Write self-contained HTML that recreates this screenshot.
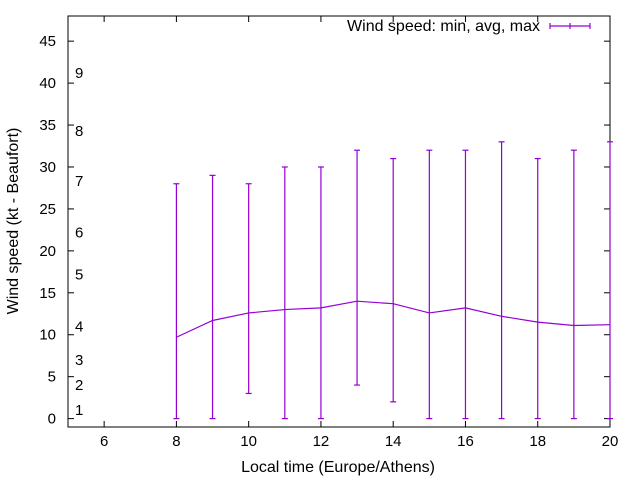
<!DOCTYPE html>
<html><head><meta charset="utf-8"><style>
html,body{margin:0;padding:0;background:#fff}
svg{display:block;font-family:"Liberation Sans",Arial,sans-serif}
</style></head><body>
<svg id="chart" width="640" height="480" viewBox="0 0 640 480">
<rect width="640" height="480" fill="#fff"/>
<g id="axes"></g>
<g id="series"></g>
<text x="540" y="31" text-anchor="end" font-size="16" fill="#000">Wind speed: min, avg, max</text>
<g stroke="#9400d3" stroke-width="1.2">
<line x1="550" y1="26" x2="590" y2="26"/><line x1="550" y1="23" x2="550" y2="29"/><line x1="590" y1="23" x2="590" y2="29"/><line x1="570" y1="23" x2="570" y2="29"/>
</g>
<text x="338" y="472" text-anchor="middle" font-size="16">Local time (Europe/Athens)</text>
<text transform="translate(18,221) rotate(-90)" text-anchor="middle" font-size="16">Wind speed (kt - Beaufort)</text>
</svg>
<script>
const hours = [8,9,10,11,12,13,14,15,16,17,18,19,20];
const minVals = [0,0,3,0,0,4,2,0,0,0,0,0,0];
const avgVals = [9.7,11.7,12.6,13.0,13.2,14.0,13.7,12.6,13.2,12.2,11.5,11.1,11.2];
const maxVals = [28,29,28,30,30,32,31,32,32,33,31,32,33];
const xTicks = [6,8,10,12,14,16,18,20];
const yTicks = [0,5,10,15,20,25,30,35,40,45];
const beaufortLabels = ["1","2","3","4","5","6","7","8","9"];
const beaufortY = [1,4,7,11,17.2,22.2,28.3,34.3,41.2];

const L=68,R=610,T=16,B=427, X0=5,X1=20,Y0=-1,Y1=48;
const sx=v=>L+(v-X0)/(X1-X0)*(R-L);
const sy=v=>B-(v-Y0)/(Y1-Y0)*(B-T);
const NS="http://www.w3.org/2000/svg";
function mk(tag,attrs,parent){const e=document.createElementNS(NS,tag);for(const k in attrs)e.setAttribute(k,attrs[k]);parent.appendChild(e);return e;}
const ax=document.getElementById('axes'), se=document.getElementById('series');
const border=mk('rect',{x:L,y:T,width:R-L,height:B-T,fill:'none',stroke:'#000','stroke-width':1},ax);


xTicks.forEach(v=>{
  const x=sx(v);
  mk('line',{x1:x,y1:B,x2:x,y2:B-6,stroke:'#000'},ax);
  mk('line',{x1:x,y1:T,x2:x,y2:T+6,stroke:'#000'},ax);
  const t=mk('text',{x:x,y:B+19,'text-anchor':'middle','font-size':15},ax);
  t.textContent=v;
  
  
});
yTicks.forEach(v=>{
  const y=sy(v);
  mk('line',{x1:L,y1:y,x2:L+6,y2:y,stroke:'#000'},ax);
  mk('line',{x1:R,y1:y,x2:R-6,y2:y,stroke:'#000'},ax);
  const t=mk('text',{x:L-12,y:y+5,'text-anchor':'end','font-size':15},ax);
  t.textContent=v;
  
  
});
beaufortLabels.forEach((s,i)=>{
  const t=mk('text',{x:75,y:sy(beaufortY[i])+5,'font-size':15},ax);
  t.textContent=s;
  
  
});
const pts=hours.map((h,i)=>sx(h)+','+sy(avgVals[i])).join(' ');
const line=mk('polyline',{points:pts,fill:'none',stroke:'#9400d3','stroke-width':1.2},se);


hours.forEach((h,i)=>{
  const x=sx(h);
  const g=mk('g',{stroke:'#9400d3','stroke-width':1.2},se);
  
  
  mk('line',{x1:x,y1:sy(minVals[i]),x2:x,y2:sy(maxVals[i])},g);
  mk('line',{x1:x-3,y1:sy(minVals[i]),x2:x+3,y2:sy(minVals[i])},g);
  mk('line',{x1:x-3,y1:sy(maxVals[i]),x2:x+3,y2:sy(maxVals[i])},g);
});
</script>
</body></html>
